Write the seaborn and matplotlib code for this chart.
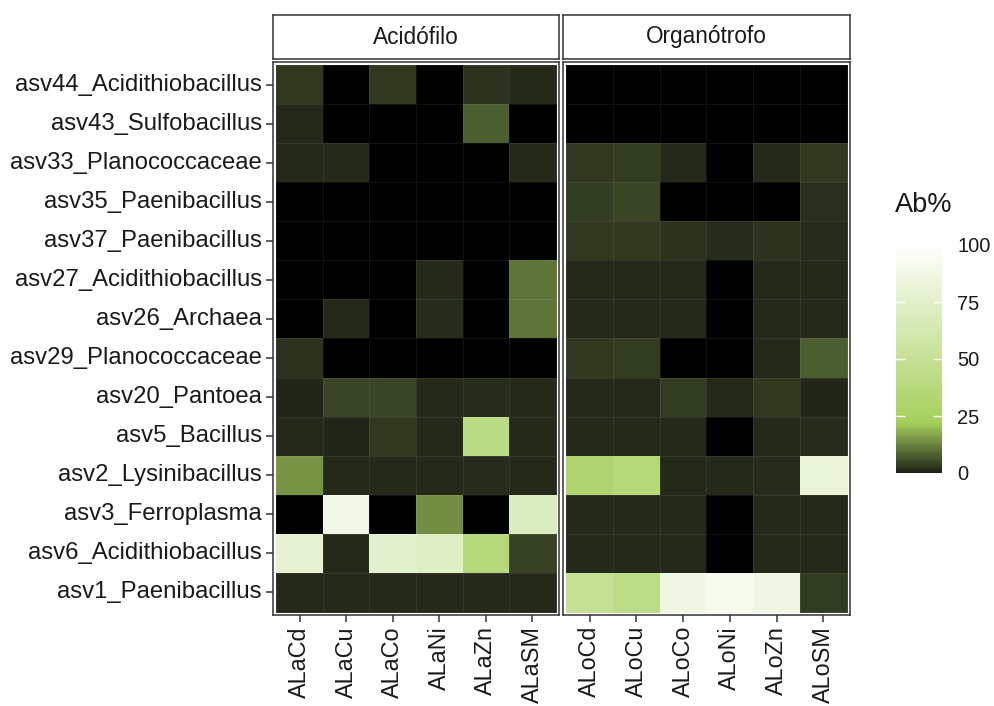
import numpy as np
import pandas as pd
import matplotlib
matplotlib.use("Agg")
import matplotlib.pyplot as plt
from matplotlib.colors import LinearSegmentedColormap
import seaborn as sns

nan = np.nan

taxa = [
    "asv44_Acidithiobacillus", "asv43_Sulfobacillus", "asv33_Planococcaceae",
    "asv35_Paenibacillus", "asv37_Paenibacillus", "asv27_Acidithiobacillus",
    "asv26_Archaea", "asv29_Planococcaceae", "asv20_Pantoea", "asv5_Bacillus",
    "asv2_Lysinibacillus", "asv3_Ferroplasma", "asv6_Acidithiobacillus",
    "asv1_Paenibacillus",
]

groups = ["Acidófilo", "Organótrofo"]
acid_samples = ["ALaCd", "ALaCu", "ALaCo", "ALaNi", "ALaZn", "ALaSM"]
organo_samples = ["ALoCd", "ALoCu", "ALoCo", "ALoNi", "ALoZn", "ALoSM"]

# relative abundance (%), NaN = not detected
acid_ab = [
    [3.0, nan, 3.0, nan, 2.0, 0.8],
    [0.8, nan, nan, nan, 7.5, nan],
    [0.8, 0.8, nan, nan, nan, 0.8],
    [nan, nan, nan, nan, nan, nan],
    [nan, nan, nan, nan, nan, nan],
    [nan, nan, nan, 0.9, nan, 10.5],
    [nan, 0.8, nan, 1.3, nan, 10.5],
    [2.0, nan, nan, nan, nan, nan],
    [0.7, 4.5, 4.5, 0.9, 1.2, 0.8],
    [0.9, 0.7, 3.0, 0.8, 42.0, 0.9],
    [14.5, 0.8, 0.8, 0.9, 1.2, 0.9],
    [nan, 89.0, nan, 14.0, nan, 69.0],
    [78.0, 0.8, 76.0, 73.0, 37.0, 4.0],
    [0.8, 0.8, 0.8, 0.9, 0.9, 1.0],
]

organo_ab = [
    [nan, nan, nan, nan, nan, nan],
    [nan, nan, nan, nan, nan, nan],
    [3.0, 3.4, 0.8, nan, 0.9, 3.0],
    [3.4, 4.3, nan, nan, nan, 1.8],
    [2.8, 3.1, 2.0, 1.5, 2.0, 1.3],
    [0.8, 0.8, 0.9, nan, 0.9, 0.9],
    [0.8, 0.8, 0.9, nan, 0.9, 0.9],
    [3.0, 3.2, nan, nan, 1.0, 7.5],
    [0.9, 1.0, 3.3, 0.9, 3.0, 0.4],
    [0.9, 1.0, 0.9, nan, 1.1, 1.5],
    [32.0, 36.0, 0.9, 1.1, 1.4, 82.0],
    [0.9, 1.0, 0.9, nan, 0.9, 1.0],
    [0.9, 1.0, 0.9, nan, 0.9, 1.0],
    [49.0, 43.0, 87.0, 92.0, 87.0, 3.4],
]

legend_ticks = [0, 25, 50, 75, 100]

cmap = LinearSegmentedColormap.from_list(
    "abund", [(0.0, "#1f2318"), (0.22, "#a5cf5b"), (1.0, "#ffffff")]
)
cmap.set_bad("black")

plt.rcParams["font.family"] = ["Liberation Sans", "DejaVu Sans"]
text_col = "#1a1a1a"
border_col = "#333333"

W, H = 994, 706
fig = plt.figure(figsize=(W / 100, H / 100), dpi=100)


def fx(px):
    return px / W


def fy(py_top, py_bottom):
    return (H - py_bottom) / H, (py_bottom - py_top) / H


panel_top, panel_bot = 62, 615
strip_top, strip_bot = 15, 59
panels_x = [(273, 559), (563, 850)]

frames = [
    pd.DataFrame(acid_ab, index=taxa, columns=acid_samples),
    pd.DataFrame(organo_ab, index=taxa, columns=organo_samples),
]

mesh = None
for i, (df, (x0, x1)) in enumerate(zip(frames, panels_x)):
    b, h = fy(panel_top, panel_bot)
    ax = fig.add_axes([fx(x0), b, fx(x1 - x0), h])
    ax.set_facecolor("white")
    sns.heatmap(
        df, ax=ax, cmap=cmap, vmin=0, vmax=100, cbar=False,
        linewidths=0.6, linecolor=(1, 1, 1, 0.07),
    )
    mesh = ax.collections[0]
    ax.set_xlim(-0.07, 6.07)
    ax.set_ylim(14.08, -0.08)
    for s in ax.spines.values():
        s.set_visible(True)
        s.set_color(border_col)
        s.set_linewidth(1.1)
    ax.set_xlabel("")
    ax.set_ylabel("")
    ax.tick_params(axis="x", length=5, width=1.1, color=border_col,
                   labelsize=16.8, labelcolor=text_col, pad=3)
    for lab in ax.get_xticklabels():
        lab.set_rotation(90)
    if i == 0:
        ax.tick_params(axis="y", length=5, width=1.1, color=border_col,
                       labelsize=17.2, labelcolor=text_col, pad=3)
        for lab in ax.get_yticklabels():
            lab.set_rotation(0)
    else:
        ax.set_yticks([])

    # facet strip
    sb, sh = fy(strip_top, strip_bot)
    sax = fig.add_axes([fx(x0), sb, fx(x1 - x0), sh])
    sax.set_xticks([])
    sax.set_yticks([])
    sax.set_facecolor("white")
    for s in sax.spines.values():
        s.set_color(border_col)
        s.set_linewidth(1.1)
    sax.text(0.5, 0.5, groups[i], ha="center", va="center",
             fontsize=16.3, color=text_col, transform=sax.transAxes)

# colour legend
cb_b, cb_h = fy(245, 473)
cax = fig.add_axes([fx(896), cb_b, fx(46), cb_h])
cbar = fig.colorbar(mesh, cax=cax, ticks=legend_ticks)
cbar.outline.set_visible(False)
cax.tick_params(length=0, labelsize=14.5, labelcolor=text_col, pad=11)
for t in legend_ticks[1:-1]:
    cax.hlines(t, 0, 0.2, color="white", linewidth=1.0, transform=cax.get_yaxis_transform())
    cax.hlines(t, 0.8, 1.0, color="white", linewidth=1.0, transform=cax.get_yaxis_transform())
fig.text(fx(895), 1 - 205 / H, "Ab%", ha="left", va="center",
         fontsize=19.5, color=text_col)

fig.savefig("out.png", dpi=100, facecolor="white")
